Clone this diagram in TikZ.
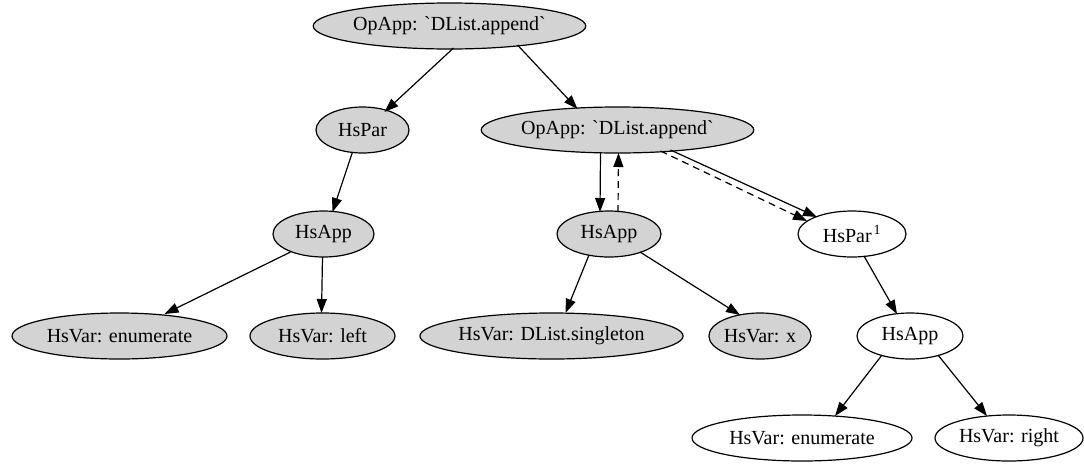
\documentclass[tikz,border=0pt]{standalone}
\usepackage{fontspec}
\setmainfont{Liberation Serif}
\usetikzlibrary{shapes.geometric,arrows.meta,calc}
\definecolor{gvgray}{HTML}{D3D3D3}
\newcommand{\gvtick}{\textasciigrave}
\tikzset{
  gv/.style={ellipse, draw=black, line width=1.2pt, inner sep=0pt, minimum height=46pt,
    font=\fontsize{20}{24}\selectfont},
  gvfill/.style={gv, fill=gvgray},
  gvplain/.style={gv, fill=white},
  edge/.style={line width=1.2pt, -{Triangle[length=14pt,width=10pt]}},
  dedge/.style={edge, dash pattern=on 7pt off 5pt},
}
\begin{document}
\begin{tikzpicture}[x=1pt,y=-1pt]
\useasboundingbox (0,0) rectangle (1084,464);
\node[gvfill, minimum width=203pt] (root) at (449.5,26) {OpApp: \gvtick DList.append\gvtick};
\node[gvfill, minimum width=93pt] (hspar) at (362.5,130) {HsPar};
\node[gvfill, minimum width=203pt] (opapp2) at (617.5,130) {OpApp: \gvtick DList.append\gvtick};
\node[gvfill, minimum width=101pt] (hsappL) at (323.5,234) {HsApp};
\node[gvfill, minimum width=104pt] (hsappM) at (609,234) {HsApp};
\node[gvplain, minimum width=108pt] (hspar1) at (852,234) {HsPar\hspace{2pt}\textsuperscript{1}};
\node[gvfill, minimum width=215pt] (enumL) at (119.5,336) {HsVar: enumerate};
\node[gvfill, minimum width=145pt] (left) at (322.5,336) {HsVar: left};
\node[gvfill, minimum width=263pt] (single) at (551.5,336) {HsVar: DList.singleton};
\node[gvfill, minimum width=100pt] (xvar) at (760,336) {HsVar: x};
\node[gvplain, minimum width=106pt] (hsappR) at (910,336) {HsApp};
\node[gvplain, minimum width=220pt] (enumR) at (802,438) {HsVar: enumerate};
\node[gvplain, minimum width=148pt] (right) at (1009,438) {HsVar: right};

\draw[edge] ($(root)+(4,22)$) -- ($(hspar)+(22,-18)$);
\draw[edge] ($(root)+(68,19)$) -- ($(opapp2)+(-40,-21)$);
\draw[edge] ($(hspar)+(-10,22)$) -- ($(hsappL)+(9,-22)$);
\draw[edge] ($(hsappL)+(-33,18)$) -- ($(enumL)+(45,-22)$);
\draw[edge] ($(hsappL)+(-1,23)$) -- ($(left)+(-1,-23)$);
\draw[edge] ($(opapp2)+(-17,22)$) -- ($(hsappM)+(-9,-22)$);
\draw[dedge] ($(hsappM)+(9,-22)$) -- ($(opapp2)+(1,23)$);
\draw[edge] ($(opapp2)+(53,20)$) -- ($(hspar1)+(-35,-17)$);
\draw[dedge] ($(opapp2)+(43,21)$) -- ($(hspar1)+(-45,-13)$);
\draw[edge] ($(hsappM)+(-20,21)$) -- ($(single)+(14,-23)$);
\draw[edge] ($(hsappM)+(31,18)$) -- ($(xvar)+(-20,-21)$);
\draw[edge] ($(hspar1)+(12,22)$) -- ($(hsappR)+(-13,-22)$);
\draw[edge] ($(hsappR)+(-28,19)$) -- ($(enumR)+(33,-22)$);
\draw[edge] ($(hsappR)+(28,19)$) -- ($(right)+(-22,-22)$);
\end{tikzpicture}
\end{document}
